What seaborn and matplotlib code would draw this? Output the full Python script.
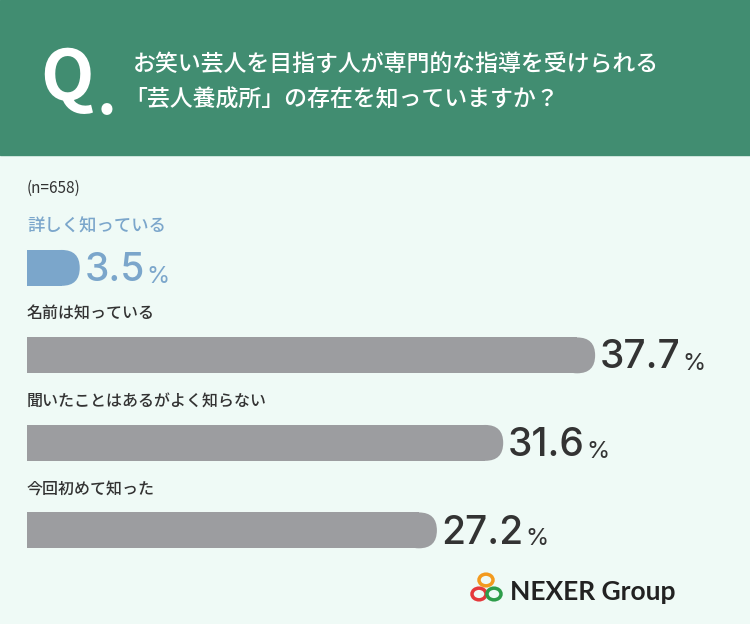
import matplotlib
matplotlib.use("Agg")
import matplotlib.pyplot as plt
import seaborn as sns
import pandas as pd
from matplotlib.patches import FancyBboxPatch, Rectangle, Circle

categories = ["詳しく知っている", "名前は知っている", "聞いたことはあるがよく知らない", "今回初めて知った"]
values = [3.5, 37.7, 31.6, 27.2]
colors = ["#7ba6cb", "#9c9da0", "#9c9da0", "#9c9da0"]
label_colors = ["#7ba6cb", "#333333", "#333333", "#333333"]

sns.set_theme(style="white")
plt.rcParams['font.family'] = ['Noto Sans CJK JP', 'DejaVu Sans']
W, H = 750, 624
fig = plt.figure(figsize=(7.5, 6.24), dpi=100)
fig.patch.set_facecolor("#effaf6")
def fx(px): return px / W
def fy(py): return 1 - py / H

# header
fig.patches.append(Rectangle((0, fy(155)), 1, 155 / H, transform=fig.transFigure, color="#418d71", zorder=0))
fig.text(fx(40), fy(80), "Q", color="white", fontsize=50, fontweight="bold", va="center", ha="left")
fig.text(fx(97), fy(96), ".", color="white", fontsize=44, fontweight="bold", va="center", ha="left")
fig.text(fx(133), fy(64), "お笑い芸人を目指す人が専門的な指導を受けられる", color="white", fontsize=16.5, fontweight="medium", va="center")
fig.text(fx(124), fy(100), "「芸人養成所」の存在を知っていますか？", color="white", fontsize=16.5, fontweight="medium", va="center")
fig.text(fx(27), fy(188), "(n=658)", color="#333333", fontsize=11, va="center")

ppu = 15.07
ax = fig.add_axes([fx(27), fy(575), 48 * ppu / W, 350 / H])
ax.set_facecolor("none")
df = pd.DataFrame({"cat": categories, "val": values})
sns.barplot(data=df, x="val", y="cat", orient="h", ax=ax, width=0.41, palette=colors, hue="cat", legend=False)
ax.set_xlim(0, 48)
ax.set_ylim(3.51, -0.49)
ax.axis("off")

rx = 18 / ppu
hh = 0.206
for i, p in enumerate(list(ax.patches)):
    x0, y0, w, h = p.get_x(), p.get_y(), p.get_width(), p.get_height()
    p.set_visible(False)
    fb = FancyBboxPatch((x0 + w - 2 * rx, y0), 2 * rx, h, boxstyle=f"round,pad=0,rounding_size={rx}",
                        mutation_aspect=hh / rx, color=colors[i], lw=0)
    ax.add_patch(fb)
    ax.add_patch(Rectangle((x0, y0), w - rx, h, color=colors[i], lw=0, antialiased=False))
    ax.text(0, i - 0.47, categories[i], color=label_colors[i] if i == 0 else "#333333",
            fontsize=12.5 if i == 0 else 11.5, fontweight="medium", va="center", ha="left")
    t = ax.text(w + 0.3, i + 0.03, f"{values[i]}", color=label_colors[i], fontsize=28,
                fontweight="medium", va="center", ha="left", family=["Inter", "DejaVu Sans"])
    fig.canvas.draw()
    bb = t.get_window_extent().transformed(ax.transData.inverted())
    ax.text(bb.x1 + 0.1, i + 0.1, "%", color=label_colors[i], fontsize=17, va="center", ha="left",
            family=["Inter", "DejaVu Sans"])

# logo
for (cx, cy, c) in [(486, 580, "#f39a1e"), (479, 594, "#e5383b"), (494, 594, "#2e9d4a")]:
    fig.patches.append(Circle((fx(cx), fy(cy)), 7 / W, transform=fig.transFigure, fill=False, ec=c, lw=2.5))
fig.text(fx(510), fy(592), "NEXER Group", color="#222222", fontsize=19, fontweight="bold", va="center",
         family=["Lato", "DejaVu Sans"])

fig.savefig("out.png", dpi=100, facecolor=fig.get_facecolor())
